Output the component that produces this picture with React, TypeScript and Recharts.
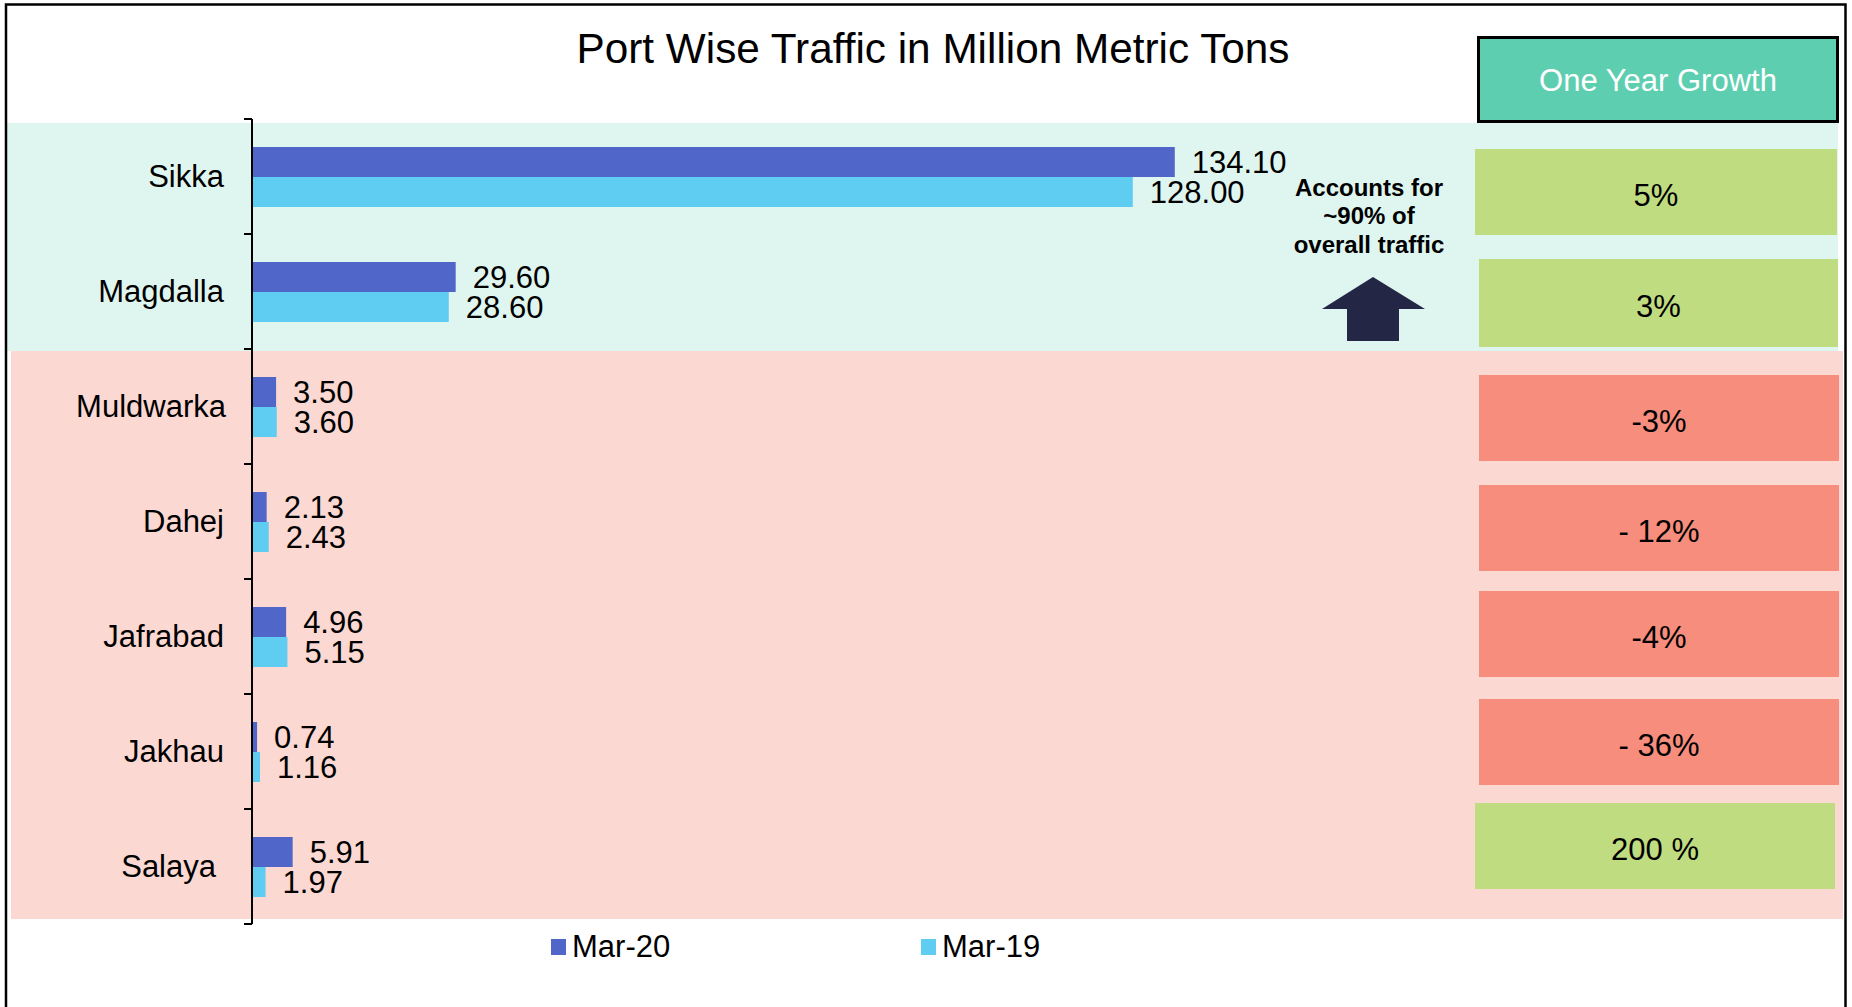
import React from 'react';
import { BarChart, Bar, XAxis, YAxis, Legend, LabelList } from 'recharts';

// ---------- data ----------
const ports = ['Sikka', 'Magdalla', 'Muldwarka', 'Dahej', 'Jafrabad', 'Jakhau', 'Salaya'];
const mar20 = [134.1, 29.6, 3.5, 2.13, 4.96, 0.74, 5.91];
const mar19 = [128.0, 28.6, 3.6, 2.43, 5.15, 1.16, 1.97];
const seriesNames = ['Mar-20', 'Mar-19'];
const growthLabels = ['5%', '3%', '-3%', '- 12%', '-4%', '- 36%', '200 %'];
const growthValues = [5, 3, -3, -12, -4, -36, 200];
const titleText = 'Port Wise Traffic in Million Metric Tons';
const headerText = 'One Year Growth';
const noteLines = ['Accounts for', '~90% of', 'overall traffic'];

const data = ports.map((p, i) => ({ port: p, mar20: mar20[i], mar19: mar19[i] }));

// ---------- layout / style ----------
const W = 1852;
const H = 1007;
const MARGIN = { top: 119, right: 499, bottom: 83, left: 0 };
const YAXIS_W = 252;
const BAND = (H - MARGIN.top - MARGIN.bottom) / ports.length;
const FONT = '"Liberation Sans", Arial, Helvetica, sans-serif';

const C_MAR20 = '#5066C8';
const C_MAR19 = '#5FCCF2';
const C_TEAL_BG = '#DFF5EF';
const C_RED_BG = '#FBD8D2';
const C_GREEN_BOX = '#BFDC80';
const C_RED_BOX = '#F68D7D';
const C_HEADER = '#5ECEB0';
const C_ARROW = '#232645';

const boxLayout = [
  { x: 1475, y: 149, w: 362, h: 86 },
  { x: 1479, y: 259, w: 359, h: 88 },
  { x: 1479, y: 375, w: 360, h: 86 },
  { x: 1479, y: 485, w: 360, h: 86 },
  { x: 1479, y: 591, w: 360, h: 86 },
  { x: 1479, y: 699, w: 360, h: 86 },
  { x: 1475, y: 803, w: 360, h: 86 },
];
const labelShift = [0, 0, 2, 0, 0, 0, -8];

const PortTick = (props: any) => {
  const { x, y, payload, index } = props;
  const half = BAND / 2;
  const isLast = index === ports.length - 1;
  return (
    <g>
      <line x1={x - 8} x2={x} y1={y - half} y2={y - half} stroke="#000" strokeWidth={2} />
      {isLast && <line x1={x - 8} x2={x} y1={y + half} y2={y + half} stroke="#000" strokeWidth={2} />}
      <text
        x={x - 28 + (labelShift[index] || 0)}
        y={y}
        textAnchor="end"
        dominantBaseline="central"
        fontSize={31}
        fill="#000"
        fontFamily={FONT}
      >
        {payload.value}
      </text>
    </g>
  );
};

const renderLegend = (props: any) => {
  const payload = [...(props.payload || [])].sort(
    (a: any, b: any) => seriesNames.indexOf(a.value) - seriesNames.indexOf(b.value)
  );
  return (
    <div style={{ position: 'relative', height: 34, fontFamily: FONT }}>
      {payload.map((e: any, i: number) => (
        <div
          key={String(e.value)}
          style={{ position: 'absolute', left: i * 370, top: 0, display: 'flex', alignItems: 'center', height: 34 }}
        >
          <span style={{ display: 'inline-block', width: 15, height: 16, background: e.color, marginRight: 6 }} />
          <span style={{ fontSize: 31, lineHeight: '34px', color: '#000' }}>{e.value}</span>
        </div>
      ))}
    </div>
  );
};

const Background = () => (
  <svg width={W} height={H} style={{ position: 'absolute', left: 0, top: 0 }} fontFamily={FONT}>
    <rect x={7} y={123} width={1831} height={228} fill={C_TEAL_BG} />
    <rect x={11} y={351} width={1832} height={568} fill={C_RED_BG} />
    <rect x={6} y={4.5} width={1839.5} height={1040} fill="none" stroke="#000" strokeWidth={2.5} />
    <text x={933} y={63} textAnchor="middle" fontSize={42.3} fill="#000">
      {titleText}
    </text>
    <rect x={1478.5} y={37.5} width={359} height={84} fill={C_HEADER} stroke="#000" strokeWidth={3} />
    <text x={1658} y={80} textAnchor="middle" dominantBaseline="central" fontSize={31} fill="#fff">
      {headerText}
    </text>
    {growthLabels.map((g, i) => {
      const b = boxLayout[i];
      return (
        <g key={g + i}>
          <rect x={b.x} y={b.y} width={b.w} height={b.h} fill={growthValues[i] >= 0 ? C_GREEN_BOX : C_RED_BOX} />
          <text
            x={b.x + b.w / 2}
            y={b.y + b.h / 2 + 3}
            textAnchor="middle"
            dominantBaseline="central"
            fontSize={31}
            fill="#000"
          >
            {g}
          </text>
        </g>
      );
    })}
    {noteLines.map((t, i) => (
      <text
        key={t}
        x={1369}
        y={187 + i * 28.5}
        textAnchor="middle"
        dominantBaseline="central"
        fontSize={24}
        fontWeight="bold"
        fill="#000"
      >
        {t}
      </text>
    ))}
    <polygon
      points="1373,277 1425,309 1399,309 1399,341 1347,341 1347,309 1322,309"
      fill={C_ARROW}
    />
  </svg>
);

export default function App() {
  return (
    <div style={{ position: 'absolute', left: 0, top: 0, width: W, height: H, fontFamily: FONT, background: '#fff' }}>
      <Background />
      <div style={{ position: 'absolute', left: 0, top: 0 }}>
        <BarChart
          width={W}
          height={H}
          data={data}
          layout="vertical"
          margin={MARGIN}
          barGap={0}
          barSize={30}
        >
          <XAxis type="number" hide domain={[0, 160]} />
          <YAxis
            type="category"
            dataKey="port"
            width={YAXIS_W}
            axisLine={{ stroke: '#000', strokeWidth: 2 }}
            tickLine={false}
            tickSize={0}
            tickMargin={0}
            tick={<PortTick />}
            interval={0}
          />
          <Legend
            layout="horizontal"
            verticalAlign="middle"
            align="center"
            content={renderLegend}
            wrapperStyle={{ left: 551, top: 930, width: 700, height: 34 }}
          />
          <Bar dataKey="mar20" name={seriesNames[0]} fill={C_MAR20} isAnimationActive={false}>
            <LabelList
              dataKey="mar20"
              position="right"
              offset={17}
              formatter={(v: any) => Number(v).toFixed(2)}
              fontSize={31}
              fill="#000"
              fontFamily={FONT}
            />
          </Bar>
          <Bar dataKey="mar19" name={seriesNames[1]} fill={C_MAR19} isAnimationActive={false}>
            <LabelList
              dataKey="mar19"
              position="right"
              offset={17}
              formatter={(v: any) => Number(v).toFixed(2)}
              fontSize={31}
              fill="#000"
              fontFamily={FONT}
            />
          </Bar>
        </BarChart>
      </div>
    </div>
  );
}
